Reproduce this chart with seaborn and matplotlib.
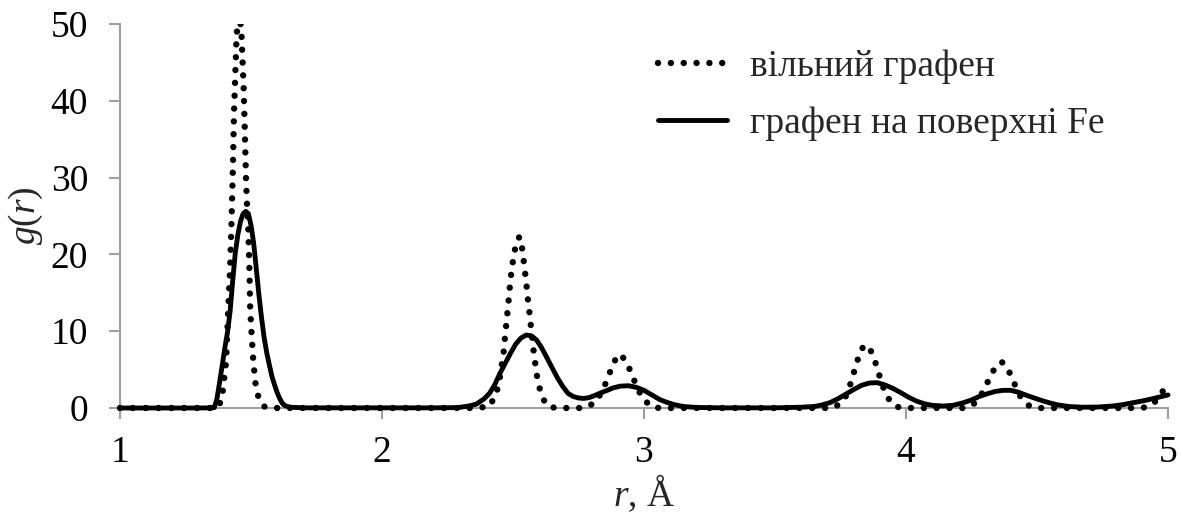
import numpy as np
import pandas as pd
import matplotlib
matplotlib.use("Agg")
import matplotlib.pyplot as plt
from matplotlib.patches import Rectangle
import seaborn as sns

# ---- data ----
r_free = [1.00, 1.37, 1.388, 1.405, 1.413, 1.420, 1.426, 1.431, 1.435, 1.440, 1.445,
          1.455, 1.464, 1.468, 1.472, 1.476, 1.481, 1.485, 1.490, 1.494, 1.497, 1.503,
          1.509, 1.519, 1.532, 1.55, 1.57,
          2.36, 2.41, 2.434, 2.447, 2.454, 2.463, 2.467, 2.472, 2.477, 2.482, 2.486,
          2.491, 2.497, 2.505, 2.517, 2.525, 2.536, 2.542, 2.548, 2.553, 2.558, 2.564,
          2.569, 2.575, 2.580, 2.587, 2.594, 2.606, 2.626, 2.66,
          2.77, 2.815, 2.840, 2.860, 2.877, 2.895, 2.91, 2.935, 2.954, 2.975, 2.995,
          3.032, 3.06,
          3.70, 3.729, 3.765, 3.784, 3.799, 3.813, 3.828, 3.845, 3.860, 3.880, 3.894,
          3.91, 3.926, 3.959, 3.99,
          4.22, 4.254, 4.286, 4.309, 4.330, 4.350, 4.365, 4.38, 4.394, 4.416, 4.438,
          4.471, 4.50,
          4.89, 4.919, 4.95, 4.987, 5.00]
g_free = [0, 0, 1.0, 6.0, 12.8, 18.0, 24.6, 31.5, 38.3, 43.4, 48.5,
          52.0, 48.5, 45.0, 41.7, 36.6, 29.8, 26.3, 23.0, 18.0, 12.8, 9.3,
          6.0, 2.6, 1.0, 0.2, 0,
          0, 0.2, 1.7, 3.3, 5.0, 6.8, 8.4, 10.1, 11.8, 13.5, 15.1,
          16.9, 18.5, 20.3, 21.9, 22.3, 20.6, 18.8, 17.1, 15.5, 13.8, 12.1,
          10.4, 8.7, 7.0, 5.3, 3.6, 2.0, 0.4, 0,
          0, 0.7, 2.2, 3.7, 5.3, 6.6, 7.0, 5.9, 4.3, 2.6, 1.2,
          0.1, 0,
          0, 0.1, 1.1, 2.7, 4.4, 6.0, 7.6, 8.2, 7.9, 6.3, 4.7,
          3.0, 1.5, 0.2, 0,
          0, 0.35, 1.65, 3.2, 4.7, 5.6, 6.0, 5.6, 4.7, 3.0, 1.4,
          0.26, 0,
          0, 0.1, 0.8, 2.5, 3.5]

r_fe = [1.00, 1.30, 1.35, 1.36, 1.37, 1.38, 1.39, 1.40, 1.41, 1.42, 1.43, 1.44, 1.45,
        1.46, 1.47, 1.48, 1.49, 1.50, 1.51, 1.52, 1.53, 1.54, 1.55, 1.56, 1.57, 1.58,
        1.59, 1.60, 1.61, 1.62, 1.63, 1.65, 1.70,
        2.20, 2.28, 2.30, 2.33, 2.36, 2.39, 2.41, 2.43, 2.45, 2.47, 2.49, 2.51, 2.53,
        2.55, 2.57, 2.59, 2.61, 2.63, 2.65, 2.67, 2.69, 2.71, 2.73, 2.75, 2.77, 2.79,
        2.81, 2.83, 2.86, 2.88, 2.91, 2.94, 2.97, 3.00, 3.03, 3.06, 3.09, 3.12, 3.15,
        3.20, 3.30,
        3.50, 3.60, 3.65, 3.68, 3.71, 3.74, 3.77, 3.80, 3.83, 3.86, 3.89, 3.92, 3.95,
        3.98, 4.01, 4.04, 4.07, 4.10, 4.14, 4.18, 4.22, 4.25, 4.28, 4.31, 4.34, 4.37,
        4.40, 4.43, 4.46, 4.49, 4.52, 4.55, 4.58, 4.62, 4.67, 4.73, 4.79, 4.83, 4.86,
        4.90, 4.94, 4.97, 5.00]
g_fe = [0, 0, 0.02, 0.05, 1.2, 3.3, 5.5, 7.8, 9.8, 12.5, 16.5, 20.2, 22.6,
        24.3, 25.3, 25.6, 25.3, 23.8, 21.5, 18.2, 14.8, 11.8, 9.2, 7.2, 5.6, 4.1,
        3.0, 2.0, 1.2, 0.6, 0.3, 0.1, 0.02,
        0.02, 0.05, 0.1, 0.25, 0.5, 1.2, 1.9, 3.0, 4.5, 5.8, 7.1, 8.3, 9.1,
        9.5, 9.4, 8.85, 7.8, 6.5, 5.2, 3.9, 2.8, 1.9, 1.5, 1.3, 1.25, 1.35,
        1.6, 1.9, 2.3, 2.6, 2.85, 2.9, 2.7, 2.3, 1.7, 1.1, 0.7, 0.4, 0.2,
        0.07, 0.02,
        0.02, 0.1, 0.2, 0.4, 0.7, 1.2, 1.8, 2.4, 2.95, 3.25, 3.3, 3.0, 2.55,
        2.0, 1.4, 0.9, 0.55, 0.35, 0.26, 0.35, 0.7, 1.05, 1.5, 1.85, 2.15, 2.3,
        2.3, 2.05, 1.65, 1.3, 0.95, 0.65, 0.4, 0.2, 0.1, 0.12, 0.26, 0.45, 0.65,
        0.9, 1.2, 1.45, 1.7]

labels = ["вільний графен", "графен на поверхні Fe"]
x_ticks = [1, 2, 3, 4, 5]
y_ticks = [0, 10, 20, 30, 40, 50]

# ---- style ----
sns.set_theme(style="white")
plt.rcParams["font.family"] = ["Liberation Serif", "DejaVu Serif"]
plt.rcParams["mathtext.fontset"] = "custom"
plt.rcParams["mathtext.rm"] = "Liberation Serif"
plt.rcParams["mathtext.it"] = "Liberation Serif:italic"

FS = 27
W, H = 1183, 519
fig = plt.figure(figsize=(W / 100, H / 100), dpi=100)
ax = fig.add_axes([120 / W, 1 - 408 / H, 1048 / W, 384 / H])

df_free = pd.DataFrame({"r": r_free, "g": g_free})
df_fe = pd.DataFrame({"r": r_fe, "g": g_fe})

sns.lineplot(data=df_free, x="r", y="g", ax=ax, color="black", linewidth=4.6,
             linestyle=(0, (0.01, 2.0)), dash_capstyle="round",
             estimator=None, sort=False, label=labels[0])
sns.lineplot(data=df_fe, x="r", y="g", ax=ax, color="black", linewidth=3.5,
             estimator=None, sort=False, label=labels[1])

clip = Rectangle((-0.02, -0.05), 1.04, 1.05, transform=ax.transAxes,
                 facecolor="none", edgecolor="none")
ax.add_patch(clip)
for ln in ax.lines:
    ln.set_clip_path(clip)
    ln.set_zorder(5)

ax.set_xlim(1, 5)
ax.set_ylim(0, 50)
ax.set_xticks(x_ticks)
ax.set_yticks(y_ticks)
ax.set_xticklabels([str(v) for v in x_ticks], fontsize=FS)
ax.set_yticklabels([str(v) for v in y_ticks], fontsize=FS)

for side in ["top", "right"]:
    ax.spines[side].set_visible(False)
for side in ["left", "bottom"]:
    ax.spines[side].set_color("#a0a0a0")
    ax.spines[side].set_linewidth(1.5)
    ax.spines[side].set_zorder(1)

ax.tick_params(axis="both", which="major", direction="out", length=8, width=1.5,
               color="#a0a0a0", labelcolor="black")
ax.tick_params(axis="x", bottom=True, pad=12)
ax.tick_params(axis="y", left=True, pad=15)

ax.set_xlabel(r"$r$, Å", fontsize=FS, labelpad=2)
ax.set_ylabel(r"$g$($r$)", fontsize=FS, labelpad=4)

# legend, placed so its rows sit where the reference has them
target_row1 = H - 63      # display y (from bottom) of first legend row
target_gap = 57           # pixels between rows
target_hx = 658           # left end of handles
target_tx = 750           # left end of labels
anchor = [0.512, 0.965]
lspace, tpad = 0.35, 0.6
fs_px = FS * 100 / 72.0


def make_legend():
    return ax.legend(loc="upper left", bbox_to_anchor=tuple(anchor), frameon=False,
                     fontsize=FS, handlelength=1.85, handletextpad=tpad,
                     labelspacing=lspace, borderaxespad=0)


leg = make_legend()
for _ in range(4):
    fig.canvas.draw()
    rr = fig.canvas.get_renderer()
    hl = leg.get_lines()
    b1 = hl[0].get_window_extent(rr)
    b2 = hl[1].get_window_extent(rr)
    y1 = 0.5 * (b1.y0 + b1.y1)
    y2 = 0.5 * (b2.y0 + b2.y1)
    hx = min(b1.x0, b2.x0)
    tx = leg.get_texts()[0].get_window_extent(rr).x0
    lspace += (target_gap - (y1 - y2)) / fs_px
    tpad += (target_tx - tx) / fs_px
    anchor[0] += (target_hx - hx) / 1048.0
    anchor[1] += (target_row1 - y1) / 384.0
    leg = make_legend()

fig.savefig("out.png", dpi=100)
